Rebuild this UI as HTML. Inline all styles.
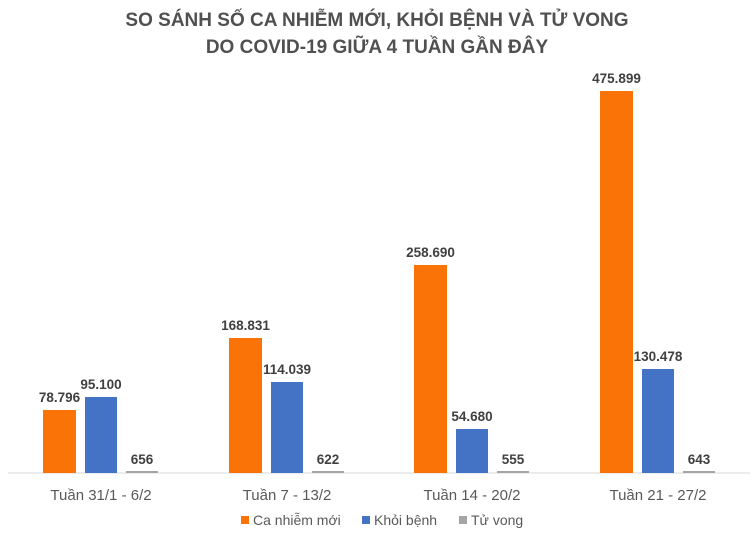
<!DOCTYPE html>
<html><head><meta charset="utf-8"><style>
body{margin:0;background:#fff;}
svg text{font-family:"Liberation Sans",Arial,sans-serif;}
</style></head><body>
<svg width="755" height="539" xmlns="http://www.w3.org/2000/svg">
<rect width="755" height="539" fill="#fff"/>
<text x="377" y="26" text-anchor="middle" font-size="19" font-weight="bold" fill="#505050">SO SÁNH SỐ CA NHIỄM MỚI, KHỎI BỆNH VÀ TỬ VONG</text>
<text x="377" y="53" text-anchor="middle" font-size="19" font-weight="bold" fill="#505050">DO COVID-19 GIỮA 4 TUẦN GẦN ĐÂY</text>
<line x1="8" y1="473" x2="750" y2="473" stroke="#d9d9d9" stroke-width="1"/>
<g font-size="13.5" font-weight="bold" fill="#404040" text-anchor="middle">
<rect x="43" y="410" width="33" height="63" fill="#F97306"/>
<text x="59.5" y="402">78.796</text>
<rect x="85" y="397" width="32" height="76" fill="#4472C4"/>
<text x="101" y="389">95.100</text>
<rect x="126" y="471" width="32" height="2" fill="#a5a5a5"/>
<text x="142" y="464">656</text>
<rect x="229" y="338" width="33" height="135" fill="#F97306"/>
<text x="245.5" y="330">168.831</text>
<rect x="271" y="382" width="32" height="91" fill="#4472C4"/>
<text x="287" y="374">114.039</text>
<rect x="312" y="471" width="32" height="2" fill="#a5a5a5"/>
<text x="328" y="464">622</text>
<rect x="414" y="265" width="33" height="208" fill="#F97306"/>
<text x="430.5" y="257">258.690</text>
<rect x="456" y="429" width="32" height="44" fill="#4472C4"/>
<text x="472" y="421">54.680</text>
<rect x="497" y="471" width="32" height="2" fill="#a5a5a5"/>
<text x="513" y="464">555</text>
<rect x="600" y="91" width="33" height="382" fill="#F97306"/>
<text x="616.5" y="83">475.899</text>
<rect x="642" y="369" width="32" height="104" fill="#4472C4"/>
<text x="658" y="361">130.478</text>
<rect x="683" y="471" width="32" height="2" fill="#a5a5a5"/>
<text x="699" y="464">643</text>
</g>
<g font-size="15" fill="#595959" text-anchor="middle">
<text x="101" y="500">Tuần 31/1 - 6/2</text>
<text x="287" y="500">Tuần 7 - 13/2</text>
<text x="472" y="500">Tuần 14 - 20/2</text>
<text x="658" y="500">Tuần 21 - 27/2</text>
</g>
<g font-size="14" fill="#595959">
<rect x="241" y="516" width="8" height="8" fill="#F97306"/>
<text x="253" y="525">Ca nhiễm mới</text>
<rect x="362" y="516" width="8" height="8" fill="#4472C4"/>
<text x="374" y="525">Khỏi bệnh</text>
<rect x="459" y="516" width="8" height="8" fill="#a5a5a5"/>
<text x="471" y="525">Tử vong</text>
</g>
</svg>
</body></html>
